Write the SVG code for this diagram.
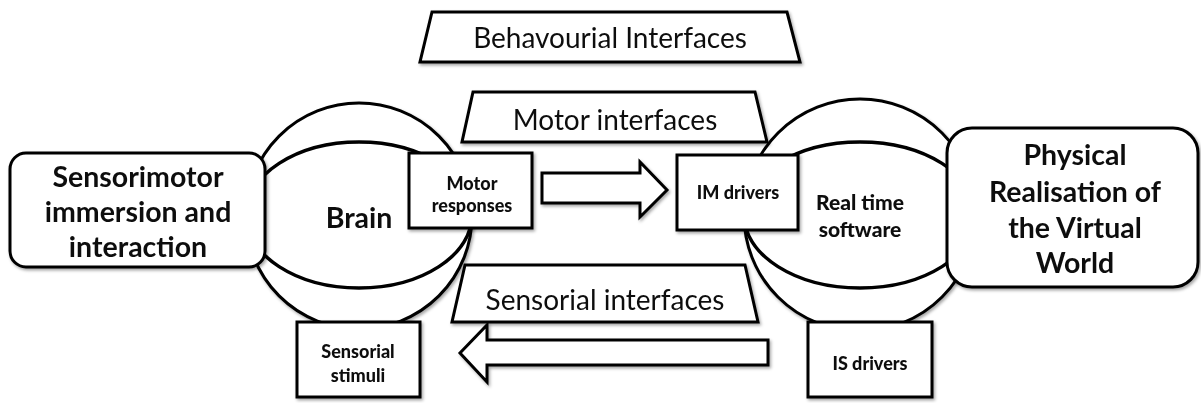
<svg xmlns="http://www.w3.org/2000/svg" width="1201" height="403" viewBox="0 0 1201 403">
<defs>
<filter id="sh" x="-10%" y="-10%" width="130%" height="130%">
<feDropShadow dx="1.5" dy="2" stdDeviation="1.5" flood-color="#000" flood-opacity="0.35"/>
</filter>
</defs>
<style>
.s{fill:#fff;stroke:#000;stroke-width:3;stroke-linejoin:miter}
.o{fill:none;stroke:#000;stroke-width:3.5}
text{font-family:Lato,"Open Sans","Liberation Sans",sans-serif;fill:#111;text-anchor:middle}
.big{font-size:28px}
.bb{font-size:28.5px;font-weight:bold}
.sm{font-size:18px;font-weight:900}
.md{font-size:21px;font-weight:900}
g{filter:url(#sh)}
</style>
<rect width="1201" height="403" fill="#fff"/>
<g id="brain">
<circle class="s" cx="359" cy="216" r="113"/>
<ellipse class="o" cx="359" cy="215" rx="113" ry="73"/>
<text class="bb" x="359" y="228">Brain</text>
</g>
<g id="software">
<circle class="s" cx="860" cy="215" r="116"/>
<ellipse class="o" cx="860" cy="215" rx="116" ry="73"/>
<text class="md" x="860" y="210">Real time</text>
<text class="md" x="860" y="237">software</text>
</g>
<g id="behavourial">
<polygon class="s" points="432,12 787,12 800,62 420,62"/>
<text class="big" x="610" y="48">Behavourial Interfaces</text>
</g>
<g id="motor-interfaces">
<polygon class="s" points="473,92 755,92 767,142 462,142"/>
<text class="big" x="615" y="130">Motor interfaces</text>
</g>
<g id="sensorial-interfaces">
<polygon class="s" points="465,265 745,265 758,322 452,322"/>
<text class="big" x="605" y="310">Sensorial interfaces</text>
</g>
<g id="sensorimotor">
<rect class="s" x="10" y="153" width="255" height="114" rx="16"/>
<text class="bb" x="138" y="187">Sensorimotor</text>
<text class="bb" x="138" y="222">immersion and</text>
<text class="bb" x="138" y="257">interaction</text>
</g>
<g id="physical">
<rect class="s" x="947" y="128" width="251" height="159" rx="25"/>
<text class="bb" x="1075" y="165">Physical</text>
<text class="bb" x="1075" y="202">Realisation of</text>
<text class="bb" x="1075" y="238">the Virtual</text>
<text class="bb" x="1075" y="273">World</text>
</g>
<g id="motor-responses">
<rect class="s" x="409" y="153" width="123" height="75"/>
<text class="sm" x="472" y="190">Motor</text>
<text class="sm" x="472" y="212">responses</text>
</g>
<g id="im-drivers">
<rect class="s" x="677" y="155" width="121" height="75"/>
<text class="sm" x="738" y="199">IM drivers</text>
</g>
<g id="sensorial-stimuli">
<rect class="s" x="297" y="322" width="123" height="75"/>
<text class="sm" x="358" y="358">Sensorial</text>
<text class="sm" x="358" y="382">stimuli</text>
</g>
<g id="is-drivers">
<rect class="s" x="808" y="322" width="124" height="75"/>
<text class="sm" x="870" y="370">IS drivers</text>
</g>
<g id="connectors">
<polygon class="s" points="542,173 640,173 640,162 667,190 640,217 640,203 542,203"/>
<polygon class="s" points="768,340 487,340 487,325 460,353 487,382 487,365 768,365"/>
</g>
</svg>
